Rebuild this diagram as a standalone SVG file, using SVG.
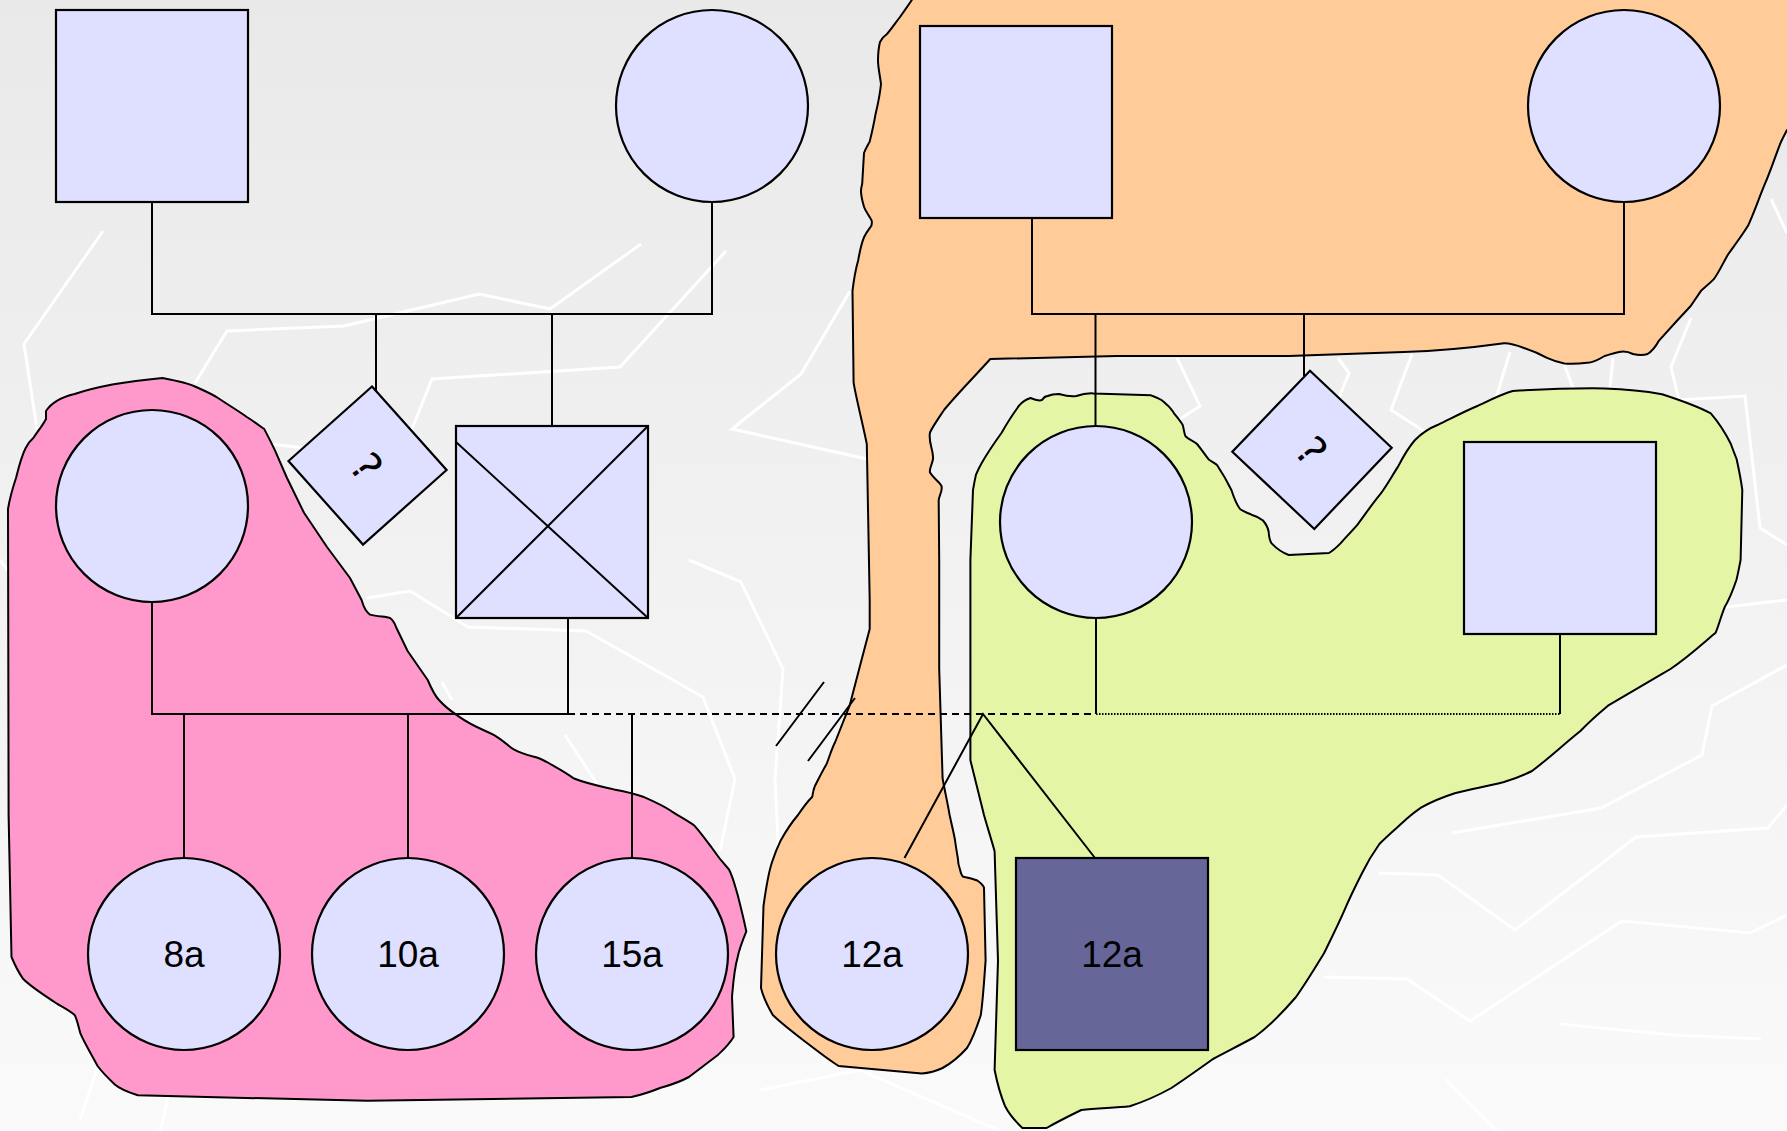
<svg xmlns="http://www.w3.org/2000/svg" width="1787" height="1131" viewBox="0 0 1787 1131">
<defs>
<linearGradient id="bg" x1="0" y1="0" x2="0" y2="1">
<stop offset="0" stop-color="#e9e9e9"/>
<stop offset="1" stop-color="#fafafa"/>
</linearGradient>
<style>
.deco{fill:none;stroke:#ffffff;stroke-width:3;stroke-linejoin:miter}
.blob{stroke:#000;stroke-width:2;stroke-linejoin:round}
.node{fill:#dfdfff;stroke:#000;stroke-width:2.2}
.ln{fill:none;stroke:#000;stroke-width:2}
.lbl{font-family:"Liberation Sans",Arial,sans-serif;font-size:37px;fill:#000;text-anchor:middle}
.q{font-family:"DejaVu Sans","Liberation Sans",sans-serif;font-size:42px;fill:#000;text-anchor:middle}
</style>
</defs>
<rect width="1787" height="1131" fill="url(#bg)"/>
<g id="background-lines">
<polyline class="deco" points="103,231 24,344 37,429"/>
<polyline class="deco" points="195,383 227,331 344,326 479,294 550,309 641,244"/>
<polyline class="deco" points="726,251 620,367 432,379 412,429"/>
<polyline class="deco" points="850,291 801,374 732,429 867,459"/>
<polyline class="deco" points="270,444 304,448"/>
<polyline class="deco" points="367,598 410,591 468,627 586,631 703,697 735,779 720,851"/>
<polyline class="deco" points="689,560 741,582 783,669 775,779 779,860"/>
<polyline class="deco" points="442,682 452,700"/>
<polyline class="deco" points="565,735 603,793 640,830"/>
<polyline class="deco" points="1379,873 1438,875 1515,930 1636,837 1768,828 1787,805"/>
<polyline class="deco" points="1324,977 1407,979 1470,1021 1622,921 1750,933 1787,915"/>
<polyline class="deco" points="1560,1024 1674,1035 1761,1039"/>
<polyline class="deco" points="1452,833 1601,808 1702,755 1712,706 1787,665"/>
<polyline class="deco" points="1726,607 1787,600"/>
<polyline class="deco" points="1445,1079 1497,1131"/>
<polyline class="deco" points="1177,358 1200,406 1180,419"/>
<polyline class="deco" points="1338,358 1349,373 1336,405"/>
<polyline class="deco" points="1412,354 1391,410 1427,433"/>
<polyline class="deco" points="1510,352 1496,398"/>
<polyline class="deco" points="1564,364 1573,388"/>
<polyline class="deco" points="1613,358 1610,387"/>
<polyline class="deco" points="1691,318 1671,367 1679,400 1745,396 1760,528 1787,545"/>
<polyline class="deco" points="1771,199 1787,233"/>
<polyline class="deco" points="0,560 60,640 40,760 10,900"/>
<polyline class="deco" points="80,1120 120,1000 260,960 380,1020"/>
<polyline class="deco" points="160,1131 170,1090"/>
<polyline class="deco" points="760,1090 860,1070 1000,1131"/>
</g>
<g id="groups">
<path id="blob-pink" class="blob" fill="#ff99cc" d="M46,411 C52,402 62,397 74.6,394 C95,387 130,381 162.5,378 C178,381 190,384 195,386.5 C205,391 212,394 218,398 C230,406 240,412 246.8,417 C258,424 262,428 264,428.6 C270,440 273,446 275.5,451.6 L287,478 L304,512.8 L327,547 L350,578 L361.6,600 C363,605 366,612 370,614.6 C378,617 386,616 390,618 C394,621 395,624 396,627 L407.6,651 L427.7,680 C432,690 435,696 439,700 C446,708 452,712 459,716.6 C472,726 484,730 493.7,734.8 C503,740 508,746 513.8,749.4 C524,755 532,756 539.6,758.5 C548,762 553,766 559.7,769.4 C566,773 570,776 574,778.5 C588,784 600,786 614,789.4 C628,792 636,794 643,796.7 C655,802 664,806 671.6,811.3 C682,818 688,821 694.6,825.8 C701,833 706,840 711.8,847.7 C718,857 724,864 729,869.5 C733,877 735,886 737.7,895 C741,908 744,920 746.3,931.4 C742,942 739,950 737.7,957 C734,970 733,985 732,997 L733.6,1037 C728,1046 723,1050 717.6,1055.3 C706,1064 697,1071 688.9,1077 C678,1083 670,1085 660,1088 C650,1092 641,1095 631.5,1097 L367.4,1100.8 L137.8,1095.3 C128,1092 120,1089 114.8,1084.4 C108,1078 102,1072 97.6,1066 C90,1052 84,1042 80.4,1033.4 C78,1025 77,1019 74.6,1015 C69,1010 63,1007 57.4,1004 C42,994 30,986 23,978.8 C17,970 14,963 11.5,957 L8.6,815 L8,509 C10,497 13,487 16,478 C19,466 22,455 25.8,447.8 C28,443 31,440 33.3,438 C38,431 43,425 46,419 Z"/>
<path id="blob-orange" class="blob" fill="#ffcc99" d="M915,-5 L1795,-5 L1795,130 L1787,130 C1784,136 1781,141 1779.6,145.4 C1774,160 1770,172 1765,183.7 C1759,198 1754,213 1748,225.8 C1741,237 1734,246 1728,254.5 C1722,265 1718,274 1713.6,279.4 C1708,285 1704,288 1701,290.9 L1690.7,306 L1676.3,321.5 L1659,340.6 C1655,348 1651,352 1647.6,354 C1642,356 1637,355 1633,354 C1627,351 1623,351 1619,352 C1613,353 1609,355 1604.6,356 C1598,360 1592,363 1587,362.8 C1578,364 1570,364 1564.4,363.6 C1557,362 1552,360 1547,357.8 C1538,353 1530,350 1524,348 C1516,345 1510,343 1504,343.3 C1470,348 1440,351 1403.6,352 L1288.8,356 L1116.6,356 L990.3,359 C975,376 958,393 944.4,409.5 C938,419 933,426 930,432.5 C928,443 934,451 933,459 C932,465 929,469 930,472.6 C933,478 939,481 941.5,486 C943,492 938,497 938.7,501.3 L939.2,560 L939.2,669 L942.6,778.5 C945,792 948,805 949.6,815 C952,826 954,834 955,840 C956,848 957,853 957.9,858.6 C958,864 959,867 960,869.5 C961,874 962,876 963.4,876.8 C969,878 973,879 977.3,880.5 C981,883 983,885 984,887.7 L985.6,960.6 C984,982 983,1000 980.8,1015 C976,1030 972,1040 967,1048 C958,1058 950,1064 942.6,1068 C934,1072 928,1073 921.8,1073.5 L838.6,1066 C826,1058 815,1049 804,1040.7 C790,1030 780,1022 772.8,1015 C767,1005 763,996 761,988 L763.5,906 C766,888 768,874 772,862.3 C775,853 778,846 780.7,840.4 C786,831 792,822 798,815 C804,806 809,800 812.3,796.7 C813,792 814,788 815,785.8 C819,778 823,770 826.6,764 C830,755 832,748 835.2,742 L849.6,705.7 L861,662 L869.7,629 L869.7,600 L866.8,444 C862,420 856,398 853.6,382.7 L852.5,290.9 C854,278 856,268 858.2,260.2 C860,250 862,242 864,237.3 C867,231 870,228 871.4,225.8 C872,223 872,221 871.4,220 C868,214 865,210 864,206.7 C862,200 861,195 861,191.3 C861,187 862,185 862.2,183.7 L864,153 C866,148 868,145 869.7,141.6 C872,132 874,123 875.4,114.8 C878,104 880,94 881,84 C880,76 878,67 878,61 C878,52 879,46 880,42 C882,38 884,36 887,34 C892,28 896,22 900,17 C905,10 910,3 915,-5 Z"/>
<path id="blob-green" class="blob" fill="#e4f5a6" d="M1030.5,398 C1035,400 1039,401 1042,400 C1044,397 1046,396 1047.7,396 C1052,394 1056,394 1059,394 C1066,396 1071,397 1076.4,396 C1082,394 1088,393 1093.7,393.4 L1151,395.3 C1155,397 1158,398 1161.4,400 C1164,402 1166,404 1168,405.7 C1171,409 1173,411 1174,413.3 C1178,418 1181,422 1182.6,424.8 C1184,429 1184,433 1185.5,436.3 C1189,440 1194,441 1197,444 C1202,450 1205,455 1208.5,459.2 C1212,462 1215,463 1217,465 C1223,474 1228,483 1231.4,490 C1234,498 1237,505 1240,509 C1244,512 1248,513 1251.5,514.7 C1256,516 1260,518 1263,520.5 C1266,524 1268,528 1268.7,532 C1269,537 1270,541 1271.6,543.4 C1277,549 1283,553 1288.8,555 L1329,553 C1334,550 1337,547 1340.5,543.4 C1346,537 1352,531 1357.7,524.3 C1366,513 1373,503 1380.7,493.7 C1387,485 1392,476 1397.9,466.9 C1403,457 1408,448 1415,440 C1422,433 1430,428 1438,424.8 C1452,418 1465,411 1478,405.7 C1490,400 1502,394 1512.7,391 C1545,389 1575,388 1604.6,388.4 C1625,389 1645,391 1662,394.2 C1680,400 1697,406 1710.8,413.3 C1720,424 1726,434 1730.9,444 C1733,450 1735,455 1736.6,459 C1739,470 1741,480 1742.3,490 L1740.6,560 C1739,568 1738,574 1736.4,580 C1733,590 1729,600 1724.6,607.3 C1721,616 1719,625 1715.6,632.8 C1700,646 1687,658 1670.5,669 C1650,681 1630,693 1608,705.7 C1598,714 1589,722 1580.4,731 C1563,745 1548,759 1532,771 C1522,776 1514,779 1504,782 C1488,786 1472,789 1455.6,793 C1443,797 1431,802 1421,807.6 C1416,811 1411,815 1407,818.6 C1398,827 1388,835 1379.4,844 C1373,853 1367,863 1362,873.2 C1356,885 1350,897 1344.7,909.6 C1338,925 1331,939 1324,953.3 C1315,968 1306,983 1296,997 C1283,1012 1270,1026 1254.6,1037 C1240,1045 1226,1052 1213,1059 C1199,1069 1185,1079 1171.4,1088 C1157,1096 1143,1102 1129.8,1106.2 C1114,1108 1097,1108 1081.3,1110 C1069,1116 1057,1122 1046.6,1128 L1022.4,1128 C1015,1121 1009,1114 1005,1106 C1000,1094 997,1082 994.6,1070 L998,960.6 L994.6,851.3 C991,838 987,826 984,815 L970.4,760.3 L970.4,560 L973,490 C974,484 975,479 976,474.6 C978,470 980,466 981.7,463 C988,452 995,442 1001.8,432.5 C1007,423 1013,414 1019,405.7 C1023,401 1027,399 1030.5,398 Z"/>
</g>
<g id="connectors">
<path class="ln" d="M152,202 V314 H712 V202"/>
<path class="ln" d="M376,314 V391"/>
<path class="ln" d="M552,314 V426"/>
<path class="ln" d="M152,602 V714 H568 V618"/>
<path class="ln" stroke-width="1.8" d="M184,714 V858 M408,714 V858 M632,714 V858"/>
<path class="ln" stroke-width="2" stroke-dasharray="7,5" d="M568,714 H1096"/>
<path class="ln" stroke-width="1.6" stroke-dasharray="1.5,1.5" d="M1096,714 H1560"/>
<path class="ln" stroke-width="1.8" d="M1560,634 V714 M1096,618 V714"/>
<path class="ln" stroke-width="1.8" d="M904.5,858 L983,714 L1095,858"/>
<path class="ln" stroke-width="1.6" d="M824,682 L776,746 M855,698 L808,761"/>
<path class="ln" d="M1032,218 V314 H1624 V202"/>
<path class="ln" d="M1095.5,314 V426"/>
<path class="ln" d="M1304,314 V376"/>
</g>
<g id="n-grandfather-left"><rect class="node" x="56" y="10" width="192" height="192"/></g>
<g id="n-grandmother-left"><circle class="node" cx="712" cy="106" r="96"/></g>
<g id="n-unknown-left"><polygon class="node" stroke-width="2" points="372,386.5 446.6,470 363,544.6 288.5,461"/><text class="q" x="366" y="467" dominant-baseline="central" transform="rotate(54 366 467)">?</text></g>
<g id="n-deceased-male"><rect class="node" x="456" y="426" width="192" height="192"/><path class="ln" stroke-width="1.8" d="M456,442 L648,618 M648,426 L456,618"/></g>
<g id="n-mother"><circle class="node" cx="152" cy="506" r="96"/></g>
<g id="n-8a"><circle class="node" cx="184" cy="954" r="96"/><text class="lbl" x="184" y="967">8a</text></g>
<g id="n-10a"><circle class="node" cx="408" cy="954" r="96"/><text class="lbl" x="408" y="967">10a</text></g>
<g id="n-15a"><circle class="node" cx="632" cy="954" r="96"/><text class="lbl" x="632" y="967">15a</text></g>
<g id="n-12a-female"><circle class="node" cx="872" cy="954" r="96"/><text class="lbl" x="872" y="967">12a</text></g>
<g id="n-12a-male"><rect class="node" style="fill:#666699" x="1016" y="858" width="192" height="192"/><text class="lbl" x="1112" y="967">12a</text></g>
<g id="n-grandfather-right"><rect class="node" x="920" y="26" width="192" height="192"/></g>
<g id="n-grandmother-right"><circle class="node" cx="1624" cy="106" r="96"/></g>
<g id="n-daughter-right"><circle class="node" cx="1096" cy="522" r="96"/></g>
<g id="n-unknown-right"><polygon class="node" stroke-width="2" points="1310,370.7 1391.7,447.7 1314.3,529 1232.3,451.7"/><text class="q" x="1311" y="451" dominant-baseline="central" transform="rotate(51 1311 451)">?</text></g>
<g id="n-partner-right"><rect class="node" x="1464" y="442" width="192" height="192"/></g>
</svg>
